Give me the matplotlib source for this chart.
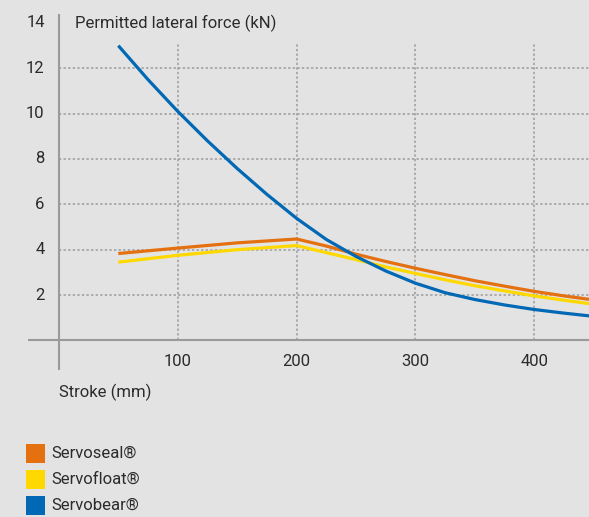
import matplotlib
matplotlib.use("Agg")
import matplotlib.pyplot as plt
from matplotlib.patches import Rectangle

plt.rcParams['font.family'] = ['Liberation Sans Narrow', 'Roboto', 'DejaVu Sans']

# values
stroke_blue = [50, 75, 100, 125, 150, 175, 200, 225, 250, 275, 300, 325, 350, 375, 400, 425, 446]
servobear = [13.0, 11.5, 10.1, 8.8, 7.58, 6.44, 5.38, 4.45, 3.7, 3.06, 2.52, 2.1, 1.8, 1.56, 1.36, 1.2, 1.08]

stroke_other = [50, 100, 150, 200, 225, 250, 275, 300, 325, 350, 375, 400, 425, 446]
servoseal = [3.83, 4.07, 4.3, 4.47, 4.16, 3.8, 3.48, 3.18, 2.9, 2.63, 2.39, 2.16, 1.96, 1.81]
servofloat = [3.45, 3.75, 4.0, 4.18, 3.87, 3.56, 3.24, 2.95, 2.67, 2.41, 2.18, 1.96, 1.77, 1.62]

names = ['Servoseal®', 'Servofloat®', 'Servobear®']
colors = ['#e5700f', '#ffd800', '#0068b4']

x_ticks = [100, 200, 300, 400]
y_ticks = [2, 4, 6, 8, 10, 12, 14]

bg = '#e3e3e3'
txt = '#2b2b2b'
gridc = '#9a9a9a'

fig = plt.figure(figsize=(5.89, 5.17), dpi=100, facecolor=bg)
ax = fig.add_axes([28 / 589, 0.2847, 1 - 28 / 589, 0.6884])
ax.set_facecolor(bg)
ax.set_xlim(-26, 446)
ax.set_ylim(-1.3, 14.4)
ax.axis('off')

# grid
for xv in x_ticks:
    ax.plot([xv, xv], [0, 13.1], color=gridc, lw=1.1, ls=(0, (1.5, 1.5)), zorder=1)
for yv in y_ticks[:-1]:
    ax.plot([0, 446], [yv, yv], color=gridc, lw=1.1, ls=(0, (1.5, 1.5)), zorder=1)

# axis lines
ax.axhline(0, color=gridc, lw=1.5, zorder=2)
ax.axvline(0, color=gridc, lw=1.5, zorder=2)

# curves
ax.plot(stroke_other, servoseal, color=colors[0], lw=2.3, zorder=4, solid_capstyle='butt')
ax.plot(stroke_other, servofloat, color=colors[1], lw=2.3, zorder=3, solid_capstyle='butt')
ax.plot(stroke_blue, servobear, color=colors[2], lw=2.3, zorder=5, solid_capstyle='butt')

# tick labels
fs = 12
for yv in y_ticks:
    ax.text(-12, yv, str(yv), ha='right', va='center', fontsize=fs, color=txt, clip_on=False)
for xv in x_ticks:
    ax.text(xv, -0.95, str(xv), ha='center', va='center', fontsize=fs, color=txt, clip_on=False)

ax.text(13.3, 14, 'Permitted lateral force (kN)', ha='left', va='center', fontsize=fs, color=txt)
ax.text(0, -2.28, 'Stroke (mm)', ha='left', va='center', fontsize=fs, color=txt, clip_on=False)

# legend
for i, (name, c) in enumerate(zip(names, colors)):
    top = 444 + i * 26
    fig.add_artist(Rectangle((26 / 589, 1 - (top + 19) / 517), 19 / 589, 19 / 517,
                             transform=fig.transFigure, facecolor=c, edgecolor='none'))
    fig.text(51 / 589, 1 - (top + 9.5) / 517, name, ha='left', va='center', fontsize=fs, color=txt)

fig.savefig('out.png', dpi=100, facecolor=bg)
